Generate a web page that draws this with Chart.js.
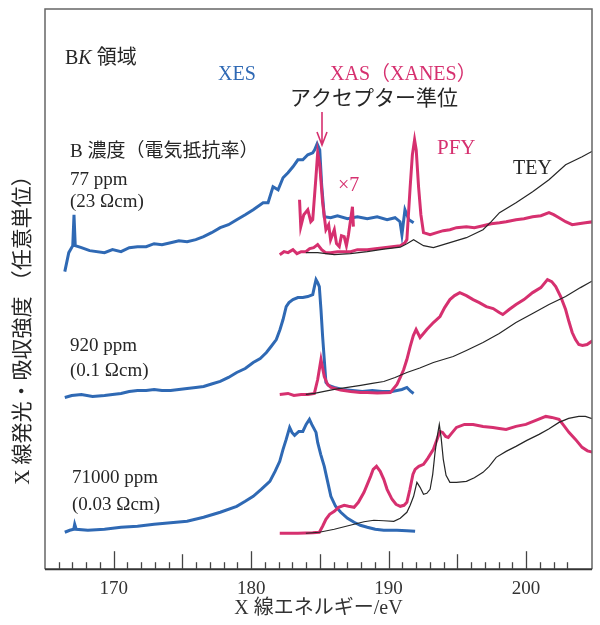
<!DOCTYPE html>
<html lang="ja">
<head>
<meta charset="utf-8">
<title>BK 領域 XES / XAS</title>
<script src="https://cdn.jsdelivr.net/npm/chart.js@4.4.1/dist/chart.umd.min.js"></script>
<style>
  html, body { margin: 0; padding: 0; background: #fff; }
  #chart { display: block; }
</style>
</head>
<body>
<canvas id="chart" width="600" height="625"></canvas>
<script>
// photon energy (eV) and intensity (arbitrary units)
const tickLabels = [170, 180, 190, 200];

// 77 ppm (23 Ωcm)
const xes77E = [166.44, 166.73, 167.02, 167.11, 167.20, 167.65, 168.25, 169.33, 169.91, 170.53, 171.13, 171.73, 172.36, 172.94, 173.51, 174.14, 174.74, 175.34, 175.97, 176.54, 177.12, 177.75, 178.35, 178.95, 179.57, 180.15, 180.87, 181.23, 181.59, 181.96, 182.32, 182.68, 183.04, 183.40, 183.76, 184.12, 184.48, 184.62, 184.80, 184.99, 185.13, 185.32, 185.78, 186.28, 187.01, 187.73, 188.45, 189.17, 189.89, 190.47, 190.83, 190.97, 191.19, 191.48, 191.82];
const xes77I = [298, 317, 324, 355, 324, 322, 319, 317, 320, 318, 322, 323, 323, 326, 325, 327, 329, 328, 330, 333, 337, 342, 345, 350, 355, 360, 367, 367, 383, 380, 392, 397, 403, 410, 410, 415, 417, 420, 426, 420, 385, 353, 352, 354, 351, 353, 351, 353, 350, 352, 348, 335, 360, 350, 347];
const pfy77x7E = [183.52, 183.61, 183.83, 184.12, 184.34, 184.48, 184.70, 184.84, 184.99, 185.20, 185.44, 185.64, 185.78, 186.05, 186.21, 186.41, 186.57, 186.77, 186.93, 187.08, 187.37, 187.44];
const pfy77x7I = [370, 343, 355, 360, 348, 350, 390, 417, 405, 367, 340, 345, 330, 340, 326, 323, 334, 333, 324, 335, 363, 343];
const pfy77E = [182.08, 182.39, 182.68, 183.04, 183.33, 183.64, 183.98, 184.26, 184.55, 184.84, 185.13, 185.42, 185.78, 186.28, 186.77, 187.24, 187.73, 188.45, 189.03, 189.65, 190.25, 190.85, 191.19, 191.33, 191.57, 191.73, 191.89, 192.01, 192.18, 192.35, 192.54, 193.02, 193.50, 193.98, 194.46, 194.94, 195.66, 196.24, 196.87, 197.47, 198.07, 198.55, 199.27, 199.85, 200.48, 201.08, 201.67, 202.01, 202.40, 202.88, 203.36, 203.82, 204.32, 204.90];
const pfy77I = [315, 318, 317, 320, 316, 318, 318, 321, 322, 325, 320, 317, 317, 318, 318, 318, 320, 320, 321, 322, 323, 324, 327, 330, 383, 415, 430, 420, 383, 355, 337, 335, 337, 339, 340, 342, 343, 342, 344, 346, 347, 348, 350, 351, 353, 354, 357, 355, 352, 348, 345, 346, 347, 348];
const tey77E = [183.98, 184.84, 186.05, 187.22, 188.45, 189.65, 190.85, 191.33, 191.82, 192.18, 192.54, 193.26, 193.98, 194.46, 195.66, 196.87, 197.47, 198.07, 199.27, 200.48, 201.67, 202.88, 204.08, 205.0];
const tey77I = [317, 317, 315, 316, 318, 320.5, 322.5, 326, 330, 327, 324, 322, 325, 327, 332, 340, 348, 357, 367, 378, 390, 405, 413, 420];

// 920 ppm (0.1 Ωcm)
const xes920E = [166.44, 166.95, 167.65, 168.46, 169.33, 169.91, 170.53, 171.13, 171.73, 172.36, 172.94, 173.51, 174.14, 174.74, 175.34, 175.97, 176.54, 177.12, 177.75, 178.35, 178.95, 179.57, 180.15, 180.66, 181.11, 181.45, 181.83, 182.10, 182.32, 182.55, 182.75, 183.04, 183.40, 183.76, 184.12, 184.48, 184.62, 184.72, 184.84, 184.96, 185.08, 185.20, 185.32, 185.44, 185.64, 186.05, 186.65, 187.37, 188.09, 188.81, 189.53, 190.25, 190.97, 191.33, 191.62, 191.82];
const xes920I = [172, 174, 175, 173, 174, 175, 176, 178, 179, 179, 180, 179, 179, 180, 181, 182, 183, 185.5, 188, 192, 197, 201, 207, 211, 217, 223, 230, 240, 250, 263, 267, 270, 272, 272, 273, 275, 284, 290, 287, 283, 260, 233, 210, 187, 184, 182, 180, 179, 178, 179, 178, 178, 180, 182, 178, 176];
const pfy920E = [182.08, 182.68, 183.11, 183.64, 184.12, 184.60, 184.84, 185.08, 185.32, 185.56, 185.80, 186.50, 187.24, 187.94, 188.45, 189.17, 190.13, 190.61, 190.85, 191.10, 191.33, 191.57, 191.80, 192.00, 192.29, 192.54, 192.78, 193.26, 193.74, 194.08, 194.46, 194.80, 195.18, 195.66, 196.15, 196.60, 197.11, 197.61, 198.05, 198.31, 198.77, 199.27, 199.85, 200.48, 201.08, 201.56, 201.87, 202.16, 202.52, 202.88, 203.12, 203.36, 203.60, 203.84, 204.11, 204.44, 204.75, 205.0];
const pfy920I = [175, 176, 174, 175, 175, 176, 190, 210, 193, 185, 182, 179.5, 178, 177, 177, 176.5, 177, 185, 192, 200, 210, 223, 234, 240, 232, 236, 240, 247, 253, 262, 270, 274, 277, 274, 270, 267, 263, 261, 257, 255, 260, 265, 270, 277, 282, 290, 288, 283, 273, 260, 248, 237, 230, 225, 224, 225, 228, 230];
const tey920E = [183.98, 184.60, 185.32, 186.05, 187.01, 187.97, 188.81, 189.65, 190.47, 191.33, 192.27, 193.26, 193.98, 194.70, 195.66, 196.87, 198.05, 199.27, 200.48, 201.67, 202.88, 203.96, 205.0];
const tey920I = [175, 176, 178, 180, 182, 184, 186, 188, 192, 197, 201.5, 207, 210, 213, 219, 227, 236, 247, 256, 265, 273, 282, 290];

// 71000 ppm (0.03 Ωcm)
const xes71000E = [166.44, 166.80, 167.09, 167.16, 167.27, 168.12, 169.33, 170.53, 171.73, 172.94, 174.14, 175.34, 176.54, 177.75, 178.95, 179.57, 180.15, 180.73, 181.36, 181.74, 182.08, 182.32, 182.55, 182.80, 182.97, 183.16, 183.47, 183.76, 184.00, 184.24, 184.41, 184.72, 184.84, 185.06, 185.32, 185.56, 185.80, 186.14, 186.52, 187.01, 187.49, 187.94, 188.45, 189.03, 189.65, 190.61, 191.33, 191.93];
const xes71000I = [37, 39, 40, 45, 40, 39, 40, 42, 43, 45, 46.5, 48, 52, 57, 63, 68, 73, 80, 88, 98, 108, 120, 130, 142, 137, 134, 138, 138, 145, 150, 145, 137, 127, 115, 103, 88, 73, 63, 57, 51, 47, 44, 42, 40, 39, 39, 38.5, 38];
const pfy71000E = [182.08, 183.40, 184.48, 184.96, 185.20, 185.44, 185.71, 186.05, 186.36, 186.77, 187.08, 187.49, 187.80, 188.21, 188.45, 188.69, 188.88, 189.12, 189.39, 189.65, 189.89, 190.25, 190.54, 190.85, 191.12, 191.33, 191.55, 191.77, 191.93, 192.20, 192.54, 192.85, 193.26, 193.50, 193.74, 193.93, 194.15, 194.34, 194.58, 194.94, 195.52, 196.15, 196.87, 197.59, 198.05, 198.55, 199.27, 199.99, 200.71, 201.44, 201.87, 202.40, 202.74, 203.12, 203.60, 204.08, 204.47, 204.92];
const pfy71000I = [36, 36, 36.5, 37, 43, 50, 55, 58, 62, 64, 63, 62, 67, 77, 85, 93, 100, 103, 98, 90, 80, 70, 65, 63, 64, 67, 80, 95, 100, 103, 105, 111, 120, 129, 138, 137, 133, 132, 136, 142, 145, 145, 143, 142, 141, 140, 143, 145, 149, 153, 152, 150, 144, 137, 130, 122, 118.5, 117];
const tey71000E = [183.98, 184.96, 186.05, 186.77, 187.49, 188.21, 188.93, 189.65, 190.38, 190.85, 191.33, 191.57, 191.82, 192.06, 192.29, 192.54, 192.78, 193.02, 193.21, 193.38, 193.54, 193.69, 193.82, 193.98, 194.18, 194.46, 194.94, 195.66, 196.24, 196.87, 197.32, 197.83, 198.55, 199.27, 200.06, 200.95, 201.65, 202.40, 203.10, 203.84, 204.32, 205.0];
const tey71000I = [36, 37, 40, 42.5, 45, 47.5, 49, 48.5, 48, 51, 57, 64, 73, 87, 82, 75, 76, 80, 95, 117, 133, 145, 132, 110, 94, 87, 87, 88, 91.5, 97, 103, 112, 118, 123, 129, 135, 140.5, 147, 151, 153, 153, 150];

const BLUE = '#2f69b4';
const PINK = '#d6306f';
const DARK = '#262626';
const SERIF = '"Liberation Serif", "Noto Sans CJK JP", serif';

function pts(es, is) {
  return es.map((e, i) => ({ x: e, y: is[i] }));
}

function line(es, is, color, width, order) {
  return { data: pts(es, is), borderColor: color, borderWidth: width, order: order,
    pointRadius: 0, tension: 0, fill: false };
}

// text labels drawn onto the canvas (pixel positions)
const notes = [
  { text: 'XES', x: 218, y: 80, size: 20, color: BLUE },
  { text: 'XAS（XANES）', x: 330, y: 80, size: 20, color: PINK },
  { text: 'アクセプター準位', x: 290, y: 105, size: 21, color: DARK },
  { text: 'PFY', x: 437, y: 154, size: 21, color: PINK },
  { text: 'TEY', x: 513, y: 174, size: 20, color: DARK },
  { text: '×7', x: 338, y: 191, size: 20, color: PINK },
  { text: 'B 濃度（電気抵抗率）', x: 70, y: 157, size: 19, color: DARK },
  { text: '77 ppm', x: 70, y: 185, size: 19, color: DARK },
  { text: '(23 Ωcm)', x: 70, y: 207, size: 19, color: DARK },
  { text: '920 ppm', x: 70, y: 351, size: 19, color: DARK },
  { text: '(0.1 Ωcm)', x: 70, y: 376, size: 19, color: DARK },
  { text: '71000 ppm', x: 72, y: 483, size: 19, color: DARK },
  { text: '(0.03 Ωcm)', x: 72, y: 510, size: 19, color: DARK }
];

const decor = {
  id: 'decor',
  afterDraw(chart) {
    const { ctx, chartArea: a, scales: { x } } = chart;
    ctx.save();

    // frame
    ctx.strokeStyle = '#666';
    ctx.lineWidth = 1.5;
    ctx.beginPath();
    ctx.moveTo(a.left, a.bottom);
    ctx.lineTo(a.left, a.top);
    ctx.lineTo(a.right, a.top);
    ctx.lineTo(a.right, a.bottom);
    ctx.stroke();
    ctx.strokeStyle = '#333';
    ctx.lineWidth = 2;
    ctx.beginPath();
    ctx.moveTo(a.left, a.bottom);
    ctx.lineTo(a.right, a.bottom);
    ctx.stroke();

    // inward ticks from the x scale
    ctx.lineWidth = 1.3;
    ctx.strokeStyle = '#444';
    x.ticks.forEach(t => {
      const v = t.value;
      if (!Number.isInteger(v) || v <= x.min) return;
      const len = v % 10 === 0 ? 18 : v % 5 === 0 ? 15 : 7;
      const px = Math.round(x.getPixelForValue(v)) + 0.5;
      ctx.beginPath();
      ctx.moveTo(px, a.bottom);
      ctx.lineTo(px, a.bottom - len);
      ctx.stroke();
    });

    // labels
    ctx.textBaseline = 'alphabetic';
    ctx.textAlign = 'left';
    notes.forEach(n => {
      ctx.font = `${n.size}px ${SERIF}`;
      ctx.fillStyle = n.color;
      ctx.fillText(n.text, n.x, n.y);
    });

    // "BK 領域" with italic K
    let cx = 65;
    [['B', ''], ['K', 'italic '], [' 領域', '']].forEach(([s, style]) => {
      ctx.font = `${style}20px ${SERIF}`;
      ctx.fillStyle = DARK;
      ctx.fillText(s, cx, 64);
      cx += ctx.measureText(s).width;
    });

    // acceptor-level arrow
    ctx.strokeStyle = PINK;
    ctx.lineWidth = 1.6;
    ctx.beginPath();
    ctx.moveTo(322, 112);
    ctx.lineTo(322, 145);
    ctx.moveTo(317, 132);
    ctx.lineTo(322, 145);
    ctx.lineTo(327, 132);
    ctx.stroke();

    // y title
    ctx.translate(23, 325);
    ctx.rotate(-Math.PI / 2);
    ctx.textAlign = 'center';
    ctx.textBaseline = 'middle';
    ctx.font = `21px ${SERIF}`;
    ctx.fillStyle = DARK;
    ctx.fillText('X 線発光・吸収強度 （任意単位）', 0, 0);

    ctx.restore();
  }
};

new Chart(document.getElementById('chart'), {
  type: 'line',
  data: {
    datasets: [
      line(tey77E, tey77I, DARK, 1.2, 0),
      line(tey920E, tey920I, DARK, 1.2, 0),
      line(tey71000E, tey71000I, DARK, 1.2, 0),
      line(pfy77E, pfy77I, PINK, 3, 1),
      line(pfy77x7E, pfy77x7I, PINK, 3, 1),
      line(pfy920E, pfy920I, PINK, 3, 1),
      line(pfy71000E, pfy71000I, PINK, 3, 1),
      line(xes77E, xes77I, BLUE, 3, 2),
      line(xes920E, xes920I, BLUE, 3, 2),
      line(xes71000E, xes71000I, BLUE, 3, 2)
    ]
  },
  options: {
    responsive: false,
    animation: false,
    devicePixelRatio: 1,
    layout: { padding: { left: 45, right: 3, top: 9, bottom: 2 } },
    plugins: { legend: { display: false }, tooltip: { enabled: false } },
    scales: {
      x: {
        type: 'linear',
        min: 165,
        max: 204.8,
        grid: { display: false, drawTicks: false },
        border: { display: false },
        ticks: {
          stepSize: 1,
          autoSkip: false,
          maxRotation: 0,
          minRotation: 0,
          padding: 8,
          color: '#333',
          font: { family: SERIF, size: 19, lineHeight: 1.2 },
          callback: v => tickLabels.includes(v) ? String(v) : ''
        },
        title: {
          display: true,
          text: 'X 線エネルギー/eV',
          color: '#333',
          font: { family: SERIF, size: 20, lineHeight: 1 },
          padding: { top: -9, bottom: 4 }
        }
      },
      y: { display: false, min: 0, max: 561 }
    }
  },
  plugins: [decor]
});
</script>
</body>
</html>
